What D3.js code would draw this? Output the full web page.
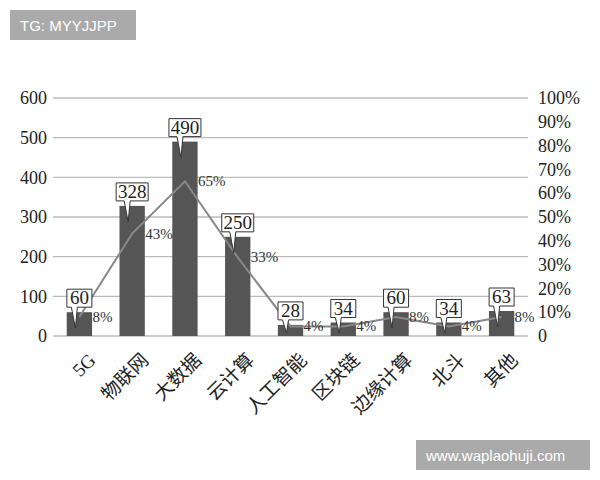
<!DOCTYPE html>
<html><head><meta charset="utf-8">
<script src="https://cdn.jsdelivr.net/npm/d3@7"></script>
<style>body{margin:0;background:#fff}</style>
</head><body>
<svg id="c" width="600" height="480"></svg>
<script>
const categories=["5G","物联网","大数据","云计算","人工智能","区块链","边缘计算","北斗","其他"];
const counts=[60,328,490,250,28,34,60,34,63];
const shares=[8,43,65,33,4,4,8,4,8];
const leftTicks=[0,100,200,300,400,500,600];
const rightTicks=[0,10,20,30,40,50,60,70,80,90,100];

const svg=d3.select("#c");
const L=53,R=528,T=98,B=336;
const font="'Liberation Serif','Noto Sans CJK SC',serif";
const x=d3.scaleBand().domain(categories).range([L,R]).paddingInner(0.52).paddingOuter(0.26);
const y=d3.scaleLinear().domain([0,600]).range([B,T]);
const y2=d3.scaleLinear().domain([0,100]).range([B,T]);

svg.append("g").selectAll("line").data(leftTicks).join("line")
 .attr("x1",L).attr("x2",R).attr("y1",d=>y(d)).attr("y2",d=>y(d))
 .attr("stroke","#bbb").attr("stroke-width",1.3);

const ga=svg.append("g").attr("transform",`translate(${L},0)`)
 .call(d3.axisLeft(y).tickValues(leftTicks).tickSize(0).tickPadding(6));
ga.select(".domain").remove();
ga.selectAll("text").attr("font-family",font).attr("font-size",18).attr("fill","#222");

const gr=svg.append("g").attr("transform",`translate(${R},0)`)
 .call(d3.axisRight(y2).tickValues(rightTicks).tickSize(0).tickPadding(10).tickFormat(d=>d===0?"0":d+"%"));
gr.select(".domain").remove();
gr.selectAll("text").attr("font-family",font).attr("font-size",18).attr("fill","#222");

svg.append("g").selectAll("rect").data(counts).join("rect")
 .attr("x",(d,i)=>x(categories[i])).attr("width",x.bandwidth())
 .attr("y",d=>y(d)).attr("height",d=>B-y(d)).attr("fill","#555");

const line=d3.line().x((d,i)=>x(categories[i])+x.bandwidth()/2).y(d=>y2(d));
svg.append("path").datum(shares).attr("d",line).attr("fill","none")
 .attr("stroke","#888").attr("stroke-width",2);

svg.append("g").selectAll("text").data(shares).join("text")
 .attr("x",(d,i)=>x(categories[i])+x.bandwidth()/2+13).attr("y",d=>y2(d)+5)
 .attr("font-family",font).attr("font-size",15).attr("fill","#333").text(d=>d+"%");

const cg=svg.append("g");
counts.forEach((v,i)=>{
 const cx=x(categories[i])+x.bandwidth()/2, top=y(v);
 const w=v>=100?32:25, h=18, bb=top-5, bl=cx-w/2;
 const tip=Math.min(top+16,B-3);
 cg.append("path").attr("d",`M${bl},${bb-h}H${bl+w}V${bb}H${cx-2}L${cx-4},${tip}L${cx-8},${bb}H${bl}Z`)
  .attr("fill","#fff").attr("stroke","#333").attr("stroke-width",1);
 cg.append("text").attr("x",cx).attr("y",bb-3).attr("text-anchor","middle")
  .attr("font-family",font).attr("font-size",19).attr("fill","#222").text(v);
});

svg.append("g").selectAll("text").data(categories).join("text")
 .attr("transform",d=>`translate(${x(d)+x.bandwidth()/2+8},${B+16}) rotate(-45)`)
 .attr("text-anchor","end").attr("dy","0.7em")
 .attr("font-family",font).attr("font-size",19).attr("fill","#222").text(d=>d);

svg.append("rect").attr("x",10).attr("y",10).attr("width",126).attr("height",30).attr("fill","#aaa");
svg.append("text").attr("x",20).attr("y",31).attr("fill","#fff").attr("font-family","'Liberation Sans',sans-serif").attr("font-size",15).text("TG: MYYJJPP");
svg.append("rect").attr("x",416).attr("y",440).attr("width",174).attr("height",30).attr("fill","#aaa");
svg.append("text").attr("x",426).attr("y",461).attr("fill","#fff").attr("font-family","'Liberation Sans',sans-serif").attr("font-size",15).text("www.waplaohuji.com");
</script>
</body></html>
